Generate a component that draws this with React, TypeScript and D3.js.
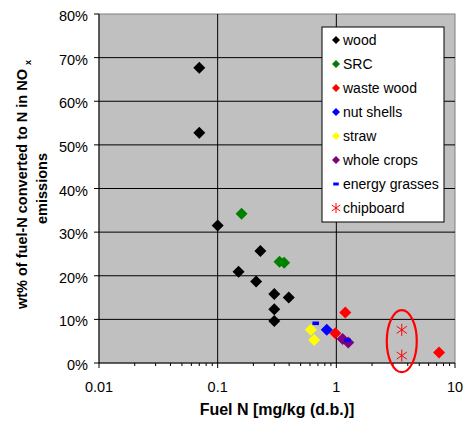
import React from "react";
import * as d3 from "d3";

// values (fuel N, fraction converted)
const woodX = [0.07, 0.07, 0.1, 0.229, 0.15, 0.211, 0.3, 0.397, 0.3, 0.3];
const woodY = [0.677, 0.528, 0.315, 0.257, 0.209, 0.187, 0.158, 0.15, 0.123, 0.096];
const srcX = [0.159, 0.332, 0.363];
const srcY = [0.342, 0.232, 0.23];
const wasteX = [1.19, 0.98, 7.34];
const wasteY = [0.116, 0.068, 0.024];
const nutX = [0.83];
const nutY = [0.076];
const strawX = [0.61, 0.65];
const strawY = [0.076, 0.053];
const cropsX = [1.13, 1.26];
const cropsY = [0.055, 0.047];
const grassX = [0.67, 1.24];
const grassY = [0.091, 0.052];
const chipX = [3.56, 3.56];
const chipY = [0.076, 0.017];

const yTicks = [0, 0.1, 0.2, 0.3, 0.4, 0.5, 0.6, 0.7, 0.8];
const xTicks = [0.01, 0.1, 1, 10];
const xTickLabels = ["0.01", "0.1", "1", "10"];

const series = [
  { name: "wood", color: "#000000", shape: "diamond", xs: woodX, ys: woodY },
  { name: "SRC", color: "#008000", shape: "diamond", xs: srcX, ys: srcY },
  { name: "waste wood", color: "#FF0000", shape: "diamond", xs: wasteX, ys: wasteY },
  { name: "nut shells", color: "#0000FF", shape: "diamond", xs: nutX, ys: nutY },
  { name: "straw", color: "#FFFF00", shape: "diamond", xs: strawX, ys: strawY },
  { name: "whole crops", color: "#800080", shape: "diamond", xs: cropsX, ys: cropsY },
  { name: "energy grasses", color: "#0000FF", shape: "dash", xs: grassX, ys: grassY },
  { name: "chipboard", color: "#FF0000", shape: "star", xs: chipX, ys: chipY },
];

const font = "'Liberation Sans', Arial, sans-serif";

function Marker({ shape, color, x, y, s }: { shape: string; color: string; x: number; y: number; s: number }) {
  if (shape === "diamond") {
    return <path d={`M${x},${y - s}L${x + s},${y}L${x},${y + s}L${x - s},${y}Z`} fill={color} />;
  }
  if (shape === "dash") {
    return <rect x={x - s * 0.55} y={y - s * 0.3} width={s * 1.1} height={s * 0.6} fill={color} />;
  }
  const d = s * 0.85;
  return (
    <g stroke={color} strokeWidth={1}>
      <line x1={x} y1={y - s} x2={x} y2={y + s} />
      <line x1={x - d} y1={y - d * 0.7} x2={x + d} y2={y + d * 0.7} />
      <line x1={x - d} y1={y + d * 0.7} x2={x + d} y2={y - d * 0.7} />
    </g>
  );
}

export default function App() {
  const width = 465;
  const height = 421;
  const margin = { top: 14, right: 10, bottom: 58, left: 99 };
  const x = d3.scaleLog().domain([0.01, 10]).range([margin.left, width - margin.right]);
  const y = d3.scaleLinear().domain([0, 0.8]).range([height - margin.bottom, margin.top]);
  const x0 = x.range()[0], x1 = x.range()[1];
  const y0 = y.range()[0], y1 = y.range()[1];

  const minor: number[] = [];
  for (let e = -2; e < 1; e++) for (let k = 2; k <= 9; k++) minor.push(k * Math.pow(10, e));

  const legX = 322, legY = 27, legW = 122, legH = 195;

  // ellipse drawn round the chipboard points
  const ex = x(3.56), ey = y(0.05);

  return (
    <svg width={width} height={height} style={{ position: "absolute", left: 0, top: 0, fontFamily: font }}>
      <rect x={0} y={0} width={width} height={height} fill="#fff" />
      <rect x={x0} y={y1} width={x1 - x0} height={y0 - y1} fill="#C0C0C0" stroke="#808080" />
      {yTicks.slice(1, -1).map((t) => (
        <line key={"gy" + t} x1={x0} x2={x1} y1={y(t)} y2={y(t)} stroke="#000" />
      ))}
      {[0.1, 1].map((t) => (
        <line key={"gx" + t} x1={x(t)} x2={x(t)} y1={y1} y2={y0} stroke="#000" />
      ))}
      {/* axes */}
      <line x1={x0} x2={x0} y1={y1} y2={y0} stroke="#000" />
      <line x1={x0} x2={x1} y1={y0} y2={y0} stroke="#000" />
      {yTicks.map((t) => (
        <g key={"yt" + t}>
          <line x1={x0 - 5} x2={x0} y1={y(t)} y2={y(t)} stroke="#000" />
          <text x={x0 - 11} y={y(t) + 7} textAnchor="end" fontSize={14.5}>
            {d3.format(".0%")(t)}
          </text>
        </g>
      ))}
      {xTicks.map((t, i) => (
        <g key={"xt" + t}>
          <line x1={x(t)} x2={x(t)} y1={y0} y2={y0 + 5} stroke="#000" />
          <text x={x(t)} y={y0 + 29} textAnchor="middle" fontSize={14.5}>
            {xTickLabels[i]}
          </text>
        </g>
      ))}
      {minor.map((t) => (
        <line key={"mx" + t} x1={x(t)} x2={x(t)} y1={y0} y2={y0 + 3} stroke="#000" />
      ))}
      {/* titles */}
      <text x={(x0 + x1) / 2} y={415} textAnchor="middle" fontSize={16} fontWeight="bold">
        Fuel N [mg/kg (d.b.)]
      </text>
      <g transform={`translate(0,${(y0 + y1) / 2}) rotate(-90)`} fontSize={14.5} fontWeight="bold">
        <text x={4} y={27} textAnchor="middle">
          wt% of fuel-N converted to N in NO{" "}
          <tspan fontSize={9} dy={4}>x</tspan>
        </text>
        <text x={0} y={47} textAnchor="middle">emissions</text>
      </g>
      {/* points */}
      {series.map((s) =>
        s.xs.map((v, i) => (
          <Marker key={s.name + i} shape={s.shape} color={s.color} x={x(v)} y={y(s.ys[i])} s={6} />
        ))
      )}
      <ellipse cx={ex} cy={ey} rx={15} ry={31} fill="none" stroke="#FF0000" strokeWidth={2.2} />
      {/* legend */}
      <rect x={legX} y={legY} width={legW} height={legH} fill="#fff" stroke="#000" />
      {series.map((s, i) => (
        <g key={"lg" + s.name}>
          <Marker shape={s.shape} color={s.color} x={legX + 14} y={legY + 13 + i * 24} s={s.shape === "diamond" ? 4 : 5} />
          <text x={legX + 21} y={legY + 18 + i * 24} fontSize={14}>
            {s.name}
          </text>
        </g>
      ))}
    </svg>
  );
}
